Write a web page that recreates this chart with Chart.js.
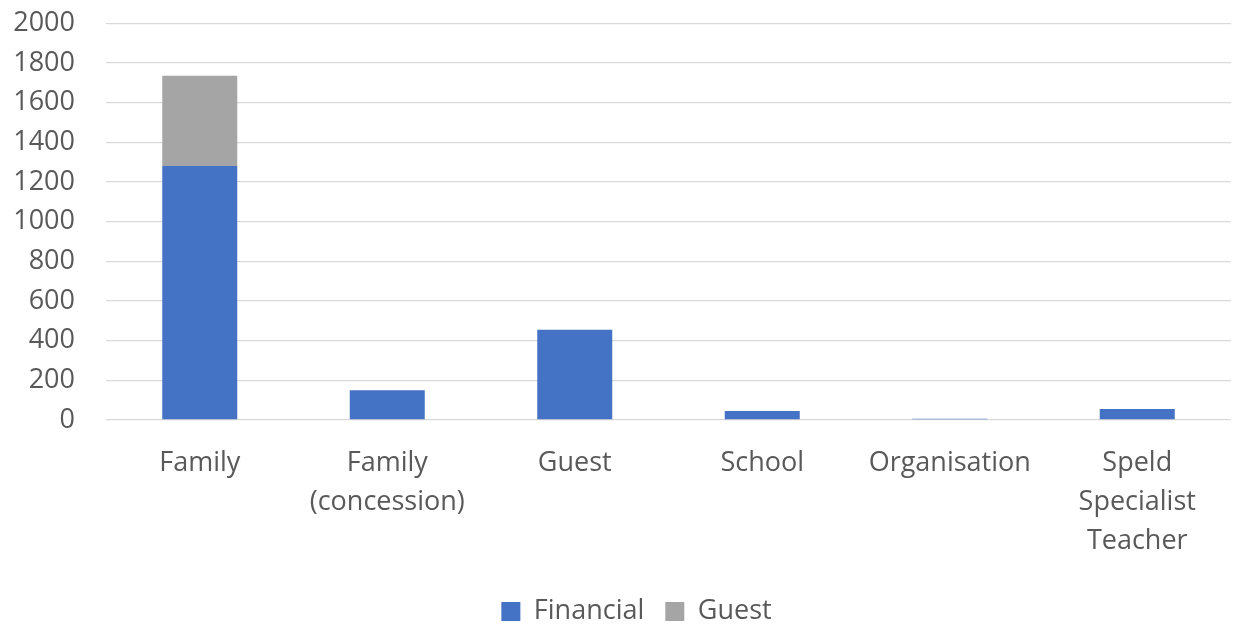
<!DOCTYPE html>
<html>
<head>
<meta charset="utf-8">
<script src="https://cdn.jsdelivr.net/npm/chart.js@4"></script>
<style>
html,body{margin:0;padding:0;background:#fff;}
#wrap{width:1233px;height:626px;position:relative;}
</style>
</head>
<body>
<div id="wrap"><canvas id="c"></canvas></div>
<script>
const categories = [["Family"], ["Family", "(concession)"], ["Guest"], ["School"], ["Organisation"], ["Speld", "Specialist", "Teacher"]];
const financial = [1280, 150, 455, 45, 6, 55];
const guest = [455, 0, 0, 0, 0, 0];
const yTicks = {min: 0, max: 2000, step: 200};

const FONT = "'Open Sans', 'Noto Sans', sans-serif";
const TXT = '#595959';

const legendShift = {
  id: 'legendShift',
  afterLayout(chart) {
    const lg = chart.legend;
    if (lg) { lg.left += 21; lg.right += 21; }
  }
};

new Chart(document.getElementById('c'), {
  type: 'bar',
  data: {
    labels: categories,
    datasets: [
      {label: 'Financial', data: financial, backgroundColor: '#4472C4', borderWidth: 0},
      {label: 'Guest', data: guest, backgroundColor: '#A5A5A5', borderWidth: 0}
    ]
  },
  plugins: [legendShift],
  options: {
    responsive: true,
    maintainAspectRatio: false,
    animation: false,
    layout: {padding: {top: 0, right: 2, left: 0, bottom: -9}},
    datasets: {bar: {categoryPercentage: 1.0, barPercentage: 0.4}},
    plugins: {
      legend: {
        position: 'bottom',
        labels: {
          color: TXT,
          font: {family: FONT, size: 27},
          boxWidth: 19,
          boxHeight: 19,
          padding: 21
        }
      },
      tooltip: {enabled: false}
    },
    scales: {
      x: {
        stacked: true,
        grid: {display: false},
        border: {display: false},
        ticks: {
          color: TXT,
          font: {family: FONT, size: 27, lineHeight: 1.44},
          padding: 16,
          maxRotation: 0,
          autoSkip: false
        },
        afterFit: (s) => { s.height = 157; }
      },
      y: {
        stacked: true,
        min: yTicks.min,
        max: yTicks.max,
        grid: {color: '#D9D9D9', lineWidth: 1.3, drawTicks: true, tickLength: 24, tickColor: 'rgba(0,0,0,0)'},
        border: {display: false},
        ticks: {
          stepSize: yTicks.step,
          color: TXT,
          font: {family: FONT, size: 27},
          padding: 7,
          callback: (v) => String(v)
        },
        afterFit: (s) => { s.width = 106; }
      }
    }
  }
});
</script>
</body>
</html>
